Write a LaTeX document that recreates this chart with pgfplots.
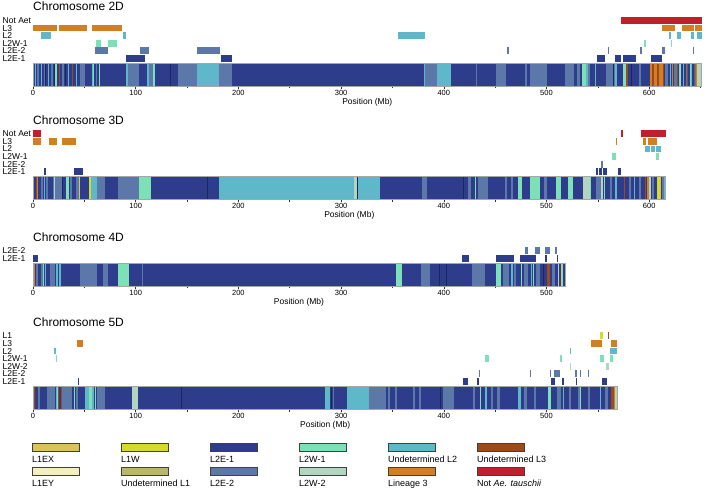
\documentclass[border=0pt]{standalone}
\usepackage{fontspec}
\setmainfont{Liberation Sans}
\usepackage{pgfplots}
\pgfplotsset{compat=1.18}

\definecolor{cL1EX}{HTML}{D9C35A}
\definecolor{cL1W}{HTML}{D5DB2D}
\definecolor{cE1}{HTML}{2E3C8C}
\definecolor{cW1}{HTML}{7EE0B6}
\definecolor{cU2}{HTML}{5FB7CA}
\definecolor{cU3}{HTML}{9B4A1C}
\definecolor{cL1EY}{HTML}{F4F0BC}
\definecolor{cU1}{HTML}{B9B86A}
\definecolor{cE2}{HTML}{5B78A8}
\definecolor{cW2}{HTML}{B1D5BE}
\definecolor{cL3}{HTML}{D27F24}
\definecolor{cNA}{HTML}{C01F2B}
\definecolor{navy}{HTML}{1C2660}

\pgfplotsset{
  chrom/.style={
    x=1.027pt, y=1pt, xmin=0, ymin=0, enlargelimits=false, clip=false,
    axis x line*=bottom, axis y line*=left,
    x axis line style={draw=none}, y axis line style={draw=none},
    xtick distance=100, minor x tick num=1,
    tick align=outside, major tick length=3pt, minor tick length=2.5pt,
    x tick style={black!80, line width=0.6pt}, y tick style={draw=none},
    /pgf/number format/assume math mode=true,
    xticklabel style={font=\fontsize{7.5}{8}\selectfont, inner sep=1pt},
    yticklabel style={font=\fontsize{8.5}{8.5}\selectfont, anchor=west, xshift=-27.5pt, inner sep=0pt},
    xlabel={Position (Mb)},
    xlabel style={font=\fontsize{8.5}{9}\selectfont, at={(rel axis cs:0.5,0)}, anchor=center, yshift=-16.5pt},
    unbounded coords=jump,
  },
  bar/.style={line width=22.6pt},
  trk/.style={line width=6.8pt},
  rim/.style={draw=black!35, line width=0.5pt},
}
\tikzset{
  ttl/.style={anchor=base west, inner sep=0pt, font=\fontsize{12}{14}\selectfont},
  lab/.style={anchor=base west, inner sep=0pt, font=\fontsize{9}{9}\selectfont},
  box/.style={draw=black!75, line width=0.6pt},
}

\begin{document}
\begin{tikzpicture}[x=1pt,y=1pt]
\useasboundingbox (0,0) rectangle (708,489);

% ---------------- Chromosome 2D
\begin{axis}[chrom, at={(33pt,403pt)}, anchor=south west, xmax=651, ymax=72,
  ytick={27.5,35.1,42.7,50.3,57.9,65.5},
  yticklabels={L2E-1,L2E-2,L2W-1,L2,L3,Not Aet}]
\addplot[bar, cE1] coordinates {(0,11.3)(651,11.3)};
\addplot[bar, cE2] coordinates {(4,11.3)(6,11.3)(nan,nan)(11,11.3)(13,11.3)(nan,nan)(18,11.3)(19,11.3)(nan,nan)(28,11.3)(30,11.3)(nan,nan)(46,11.3)(51,11.3)(nan,nan)(61,11.3)(62,11.3)(nan,nan)(92.5,11.3)(103,11.3)(nan,nan)(113,11.3)(117,11.3)(nan,nan)(141,11.3)(160,11.3)(nan,nan)(181,11.3)(194,11.3)(nan,nan)(382,11.3)(393,11.3)(nan,nan)(431,11.3)(432,11.3)(nan,nan)(451,11.3)(461,11.3)(nan,nan)(479,11.3)(481,11.3)(nan,nan)(484,11.3)(500,11.3)(nan,nan)(518,11.3)(527,11.3)(nan,nan)(530,11.3)(533,11.3)(nan,nan)(540,11.3)(542,11.3)(nan,nan)(558,11.3)(567,11.3)(nan,nan)(590,11.3)(592,11.3)(nan,nan)(615,11.3)(618,11.3)(nan,nan)(624,11.3)(627,11.3)(nan,nan)(636,11.3)(638,11.3)(nan,nan)(645,11.3)(647,11.3)};
\addplot[bar, cU2] coordinates {(2,11.3)(3,11.3)(nan,nan)(8,11.3)(9,11.3)(nan,nan)(15,11.3)(16,11.3)(nan,nan)(34,11.3)(35,11.3)(nan,nan)(42,11.3)(43,11.3)(nan,nan)(57,11.3)(58,11.3)(nan,nan)(90.5,11.3)(92.5,11.3)(nan,nan)(111,11.3)(113,11.3)(nan,nan)(160,11.3)(181,11.3)(nan,nan)(381,11.3)(382,11.3)(nan,nan)(393,11.3)(407,11.3)(nan,nan)(538,11.3)(540,11.3)(nan,nan)(547,11.3)(548,11.3)(nan,nan)(567,11.3)(569,11.3)(nan,nan)(620,11.3)(621,11.3)(nan,nan)(633,11.3)(634,11.3)(nan,nan)(641,11.3)(642,11.3)(nan,nan)(649,11.3)(650,11.3)};
\addplot[bar, cW1] coordinates {(21,11.3)(23,11.3)(nan,nan)(58,11.3)(59.5,11.3)(nan,nan)(64,11.3)(65.5,11.3)(nan,nan)(117,11.3)(119,11.3)(nan,nan)(535,11.3)(538,11.3)(nan,nan)(574,11.3)(577,11.3)(nan,nan)(629,11.3)(630,11.3)(nan,nan)(640,11.3)(641,11.3)};
\addplot[bar, cU3] coordinates {(25,11.3)(26,11.3)(nan,nan)(38,11.3)(39,11.3)(nan,nan)(577,11.3)(579,11.3)(nan,nan)(603,11.3)(605,11.3)(nan,nan)(608,11.3)(610,11.3)(nan,nan)(613,11.3)(614,11.3)(nan,nan)(627,11.3)(628,11.3)(nan,nan)(637,11.3)(638,11.3)(nan,nan)(644,11.3)(645,11.3)};
\addplot[bar, cL3] coordinates {(601,11.3)(603,11.3)(nan,nan)(605,11.3)(608,11.3)(nan,nan)(610,11.3)(613,11.3)(nan,nan)(622,11.3)(623,11.3)(nan,nan)(646,11.3)(647,11.3)};
\addplot[bar, cW2] coordinates {(630,11.3)(631,11.3)(nan,nan)(647,11.3)(651,11.3)};
\addplot[bar, navy] coordinates {(12,11.3)(12.6,11.3)(nan,nan)(20,11.3)(20.6,11.3)(nan,nan)(31,11.3)(31.6,11.3)(nan,nan)(133,11.3)(134,11.3)(nan,nan)(565,11.3)(566,11.3)(nan,nan)(582,11.3)(583,11.3)};
\addplot[rim] coordinates {(0,0)(651,0)(651,22.6)(0,22.6)(0,0)};
% tracks
\addplot[trk, cNA] coordinates {(573,65.5)(651,65.5)};
\addplot[trk, cL3] coordinates {(0,57.9)(23.5,57.9)(nan,nan)(25.5,57.9)(53,57.9)(nan,nan)(57,57.9)(86.5,57.9)(nan,nan)(612.5,57.9)(625,57.9)(nan,nan)(632,57.9)(644,57.9)(nan,nan)(645,57.9)(651,57.9)};
\addplot[trk, cU2] coordinates {(8,50.3)(17.5,50.3)(nan,nan)(88,50.3)(90.5,50.3)(nan,nan)(355.5,50.3)(382,50.3)(nan,nan)(619,50.3)(621,50.3)(nan,nan)(627,50.3)(631,50.3)(nan,nan)(641,50.3)(644,50.3)(nan,nan)(647,50.3)(651,50.3)};
\addplot[trk, cW1] coordinates {(61.5,42.7)(66,42.7)(nan,nan)(73,42.7)(81.5,42.7)(nan,nan)(595,42.7)(597,42.7)(nan,nan)(621,42.7)(622,42.7)};
\addplot[trk, cE2] coordinates {(60.5,35.1)(73,35.1)(nan,nan)(104,35.1)(113,35.1)(nan,nan)(159.5,35.1)(182,35.1)(nan,nan)(462,35.1)(463,35.1)(nan,nan)(559.5,35.1)(560.5,35.1)(nan,nan)(591.5,35.1)(592.5,35.1)(nan,nan)(612.5,35.1)(615,35.1)(nan,nan)(643,35.1)(644,35.1)};
\addplot[trk, cE1] coordinates {(90.5,27.5)(109,27.5)(nan,nan)(183,27.5)(194,27.5)(nan,nan)(549,27.5)(557,27.5)(nan,nan)(566.5,27.5)(572.5,27.5)(nan,nan)(574.5,27.5)(587,27.5)(nan,nan)(602,27.5)(612.5,27.5)};
\node[ttl] at (axis cs:0,75) {Chromosome 2D};
\end{axis}

% ---------------- Chromosome 3D
\begin{axis}[chrom, at={(33pt,289.7pt)}, anchor=south west, xmax=616, ymax=72,
  ytick={27.5,35.1,42.7,50.3,57.9,65.5},
  yticklabels={L2E-1,L2E-2,L2W-1,L2,L3,Not Aet}]
\addplot[bar, cE1] coordinates {(0,11.3)(616,11.3)};
\addplot[bar, cE2] coordinates {(8,11.3)(10,11.3)(nan,nan)(13,11.3)(15,11.3)(nan,nan)(19.5,11.3)(28,11.3)(nan,nan)(36,11.3)(38,11.3)(nan,nan)(42,11.3)(45,11.3)(nan,nan)(62.5,11.3)(70,11.3)(nan,nan)(83,11.3)(103,11.3)(nan,nan)(379,11.3)(384,11.3)(nan,nan)(424,11.3)(426,11.3)(nan,nan)(433,11.3)(443,11.3)(nan,nan)(460,11.3)(462,11.3)(nan,nan)(465,11.3)(467,11.3)(nan,nan)(498,11.3)(500,11.3)(nan,nan)(548,11.3)(553,11.3)(nan,nan)(562,11.3)(564,11.3)(nan,nan)(580,11.3)(582,11.3)(nan,nan)(590,11.3)(592,11.3)(nan,nan)(603,11.3)(605,11.3)(nan,nan)(612,11.3)(614,11.3)};
\addplot[bar, cU2] coordinates {(11,11.3)(12,11.3)(nan,nan)(55.5,11.3)(62.5,11.3)(nan,nan)(181,11.3)(312.5,11.3)(nan,nan)(316,11.3)(338,11.3)(nan,nan)(567,11.3)(569,11.3)(nan,nan)(585,11.3)(586,11.3)(nan,nan)(614,11.3)(616,11.3)};
\addplot[bar, cW1] coordinates {(32,11.3)(35,11.3)(nan,nan)(103,11.3)(115,11.3)(nan,nan)(430,11.3)(431.5,11.3)(nan,nan)(472,11.3)(476,11.3)(nan,nan)(484,11.3)(494,11.3)(nan,nan)(509,11.3)(514,11.3)(nan,nan)(521,11.3)(526,11.3)(nan,nan)(541,11.3)(543,11.3)(nan,nan)(556,11.3)(557,11.3)};
\addplot[bar, cW2] coordinates {(20,11.3)(21,11.3)(nan,nan)(312.5,11.3)(315,11.3)(nan,nan)(535.5,11.3)(542,11.3)(nan,nan)(553,11.3)(555,11.3)(nan,nan)(600,11.3)(602,11.3)};
\addplot[bar, cU3] coordinates {(2.5,11.3)(4,11.3)(nan,nan)(575,11.3)(576,11.3)(nan,nan)(596,11.3)(597,11.3)};
\addplot[bar, cL3] coordinates {(4,11.3)(5,11.3)(nan,nan)(598,11.3)(600,11.3)};
\addplot[bar, cL1W] coordinates {(55,11.3)(56,11.3)(nan,nan)(608,11.3)(610.5,11.3)};
\addplot[bar, cL1EX] coordinates {(45,11.3)(46,11.3)(nan,nan)(610.5,11.3)(611.5,11.3)};
\addplot[bar, navy] coordinates {(28,11.3)(28.6,11.3)(nan,nan)(169,11.3)(170,11.3)(nan,nan)(315,11.3)(316,11.3)(nan,nan)(419,11.3)(420,11.3)};
\addplot[rim] coordinates {(0,0)(616,0)(616,22.6)(0,22.6)(0,0)};
% tracks
\addplot[trk, cNA] coordinates {(0,65.5)(8,65.5)(nan,nan)(573,65.5)(574.5,65.5)(nan,nan)(592,65.5)(616,65.5)};
\addplot[trk, cL3] coordinates {(0,57.9)(8,57.9)(nan,nan)(16,57.9)(23,57.9)(nan,nan)(28,57.9)(42,57.9)(nan,nan)(567.5,57.9)(568.5,57.9)(nan,nan)(594,57.9)(597,57.9)(nan,nan)(598.5,57.9)(608,57.9)};
\addplot[trk, cU2] coordinates {(596,50.3)(601,50.3)(nan,nan)(602,50.3)(606,50.3)(nan,nan)(607,50.3)(611.5,50.3)};
\addplot[trk, cW1] coordinates {(563.5,42.7)(567.5,42.7)(nan,nan)(607,42.7)(609.5,42.7)};
\addplot[trk, cE2] coordinates {(553,35.1)(555,35.1)};
\addplot[trk, cE1] coordinates {(11,27.5)(12.5,27.5)(nan,nan)(40,27.5)(48.5,27.5)(nan,nan)(548,27.5)(550,27.5)(nan,nan)(551,27.5)(554,27.5)(nan,nan)(555,27.5)(559,27.5)(nan,nan)(569.5,27.5)(572.5,27.5)};
\node[ttl] at (axis cs:0,75) {Chromosome 3D};
\end{axis}

% ---------------- Chromosome 4D
\begin{axis}[chrom, at={(33pt,203pt)}, anchor=south west, xmax=518, ymax=40,
  ytick={27.5,35.1}, yticklabels={L2E-1,L2E-2}]
\addplot[bar, cE1] coordinates {(0,11.3)(518,11.3)};
\addplot[bar, cE2] coordinates {(3,11.3)(5,11.3)(nan,nan)(8,11.3)(10,11.3)(nan,nan)(16.5,11.3)(21.5,11.3)(nan,nan)(46,11.3)(62.5,11.3)(nan,nan)(68,11.3)(73,11.3)(nan,nan)(106,11.3)(107,11.3)(nan,nan)(378,11.3)(386.5,11.3)(nan,nan)(427.5,11.3)(440,11.3)(nan,nan)(458,11.3)(463,11.3)(nan,nan)(468,11.3)(470,11.3)(nan,nan)(478,11.3)(482,11.3)(nan,nan)(490,11.3)(494,11.3)(nan,nan)(505,11.3)(508,11.3)};
\addplot[bar, cU2] coordinates {(12,11.3)(13,11.3)(nan,nan)(22,11.3)(24,11.3)(nan,nan)(25,11.3)(27,11.3)(nan,nan)(465.5,11.3)(467,11.3)(nan,nan)(485,11.3)(486,11.3)};
\addplot[bar, cW1] coordinates {(10,11.3)(11,11.3)(nan,nan)(82.5,11.3)(93.5,11.3)(nan,nan)(353.5,11.3)(359,11.3)(nan,nan)(451,11.3)(456,11.3)(nan,nan)(475,11.3)(476,11.3)(nan,nan)(487,11.3)(488,11.3)(nan,nan)(515,11.3)(516,11.3)};
\addplot[bar, cU3] coordinates {(0,11.3)(1,11.3)(nan,nan)(500,11.3)(503.5,11.3)};
\addplot[bar, cL3] coordinates {(1,11.3)(2,11.3)};
\addplot[bar, cL1EX] coordinates {(514,11.3)(515,11.3)};
\addplot[bar, cW2] coordinates {(511,11.3)(512,11.3)};
\addplot[bar, navy] coordinates {(395,11.3)(396,11.3)(nan,nan)(402,11.3)(403,11.3)(nan,nan)(497,11.3)(498,11.3)};
\addplot[rim] coordinates {(0,0)(518,0)(518,22.6)(0,22.6)(0,0)};
% tracks
\addplot[trk, cE2] coordinates {(479,35.1)(482,35.1)(nan,nan)(489,35.1)(494,35.1)(nan,nan)(499,35.1)(503.5,35.1)(nan,nan)(508,35.1)(510,35.1)};
\addplot[trk, cE1] coordinates {(0,27.5)(5,27.5)(nan,nan)(418,27.5)(425,27.5)(nan,nan)(451,27.5)(468.5,27.5)(nan,nan)(474,27.5)(489.5,27.5)(nan,nan)(498.5,27.5)(500.5,27.5)(nan,nan)(510.5,27.5)(511.5,27.5)};
\node[ttl] at (axis cs:0,44.5) {Chromosome 4D};
\end{axis}

% ---------------- Chromosome 5D
\begin{axis}[chrom, at={(33pt,80pt)}, anchor=south west, xmax=569, ymax=78,
  ytick={27.5,35.1,42.7,50.3,57.9,65.5,73.1},
  yticklabels={L2E-1,L2E-2,L2W-2,L2W-1,L2,L3,L1}]
\addplot[bar, cE1] coordinates {(0,11.3)(569,11.3)};
\addplot[bar, cE2] coordinates {(5,11.3)(7,11.3)(nan,nan)(13.5,11.3)(21.5,11.3)(nan,nan)(28,11.3)(38,11.3)(nan,nan)(42,11.3)(44,11.3)(nan,nan)(62,11.3)(70,11.3)(nan,nan)(292,11.3)(293,11.3)(nan,nan)(327,11.3)(343.5,11.3)(nan,nan)(346,11.3)(348,11.3)(nan,nan)(352,11.3)(354,11.3)(nan,nan)(370,11.3)(372,11.3)(nan,nan)(376,11.3)(378,11.3)(nan,nan)(399,11.3)(410,11.3)(nan,nan)(428,11.3)(430,11.3)(nan,nan)(446,11.3)(448,11.3)(nan,nan)(452,11.3)(455,11.3)(nan,nan)(478,11.3)(481,11.3)(nan,nan)(488,11.3)(490,11.3)(nan,nan)(510,11.3)(514,11.3)(nan,nan)(522,11.3)(524,11.3)(nan,nan)(531,11.3)(533,11.3)(nan,nan)(540,11.3)(542,11.3)(nan,nan)(557,11.3)(560,11.3)};
\addplot[bar, cU2] coordinates {(22,11.3)(23,11.3)(nan,nan)(50.5,11.3)(55,11.3)(nan,nan)(57,11.3)(59,11.3)(nan,nan)(284,11.3)(289,11.3)(nan,nan)(305.5,11.3)(327,11.3)(nan,nan)(440,11.3)(442,11.3)(nan,nan)(472,11.3)(475,11.3)(nan,nan)(516,11.3)(517,11.3)(nan,nan)(552,11.3)(553,11.3)};
\addplot[bar, cW1] coordinates {(23,11.3)(24,11.3)(nan,nan)(40,11.3)(41,11.3)(nan,nan)(55,11.3)(57,11.3)(nan,nan)(60,11.3)(61,11.3)(nan,nan)(435,11.3)(436,11.3)(nan,nan)(501.5,11.3)(504.5,11.3)(nan,nan)(533,11.3)(534,11.3)};
\addplot[bar, cW2] coordinates {(96,11.3)(102,11.3)(nan,nan)(567,11.3)(569,11.3)};
\addplot[bar, cU3] coordinates {(1,11.3)(2,11.3)(nan,nan)(24.5,11.3)(25.5,11.3)(nan,nan)(27,11.3)(28,11.3)(nan,nan)(563,11.3)(565.5,11.3)};
\addplot[bar, cL3] coordinates {(565.5,11.3)(567,11.3)};
\addplot[bar, navy] coordinates {(144,11.3)(145,11.3)(nan,nan)(290,11.3)(291,11.3)(nan,nan)(396,11.3)(397,11.3)};
\addplot[rim] coordinates {(0,0)(569,0)(569,22.6)(0,22.6)(0,0)};
% tracks
\addplot[trk, cL1W] coordinates {(552,73.1)(555,73.1)};
\addplot[trk, cU3] coordinates {(559.5,73.1)(560.5,73.1)};
\addplot[trk, cL3] coordinates {(43,65.5)(49,65.5)(nan,nan)(543,65.5)(554,65.5)(nan,nan)(563,65.5)(569,65.5)};
\addplot[trk, cU2] coordinates {(20.5,57.9)(22.5,57.9)(nan,nan)(522.5,57.9)(523.5,57.9)(nan,nan)(562,57.9)(569,57.9)};
\addplot[trk, cW1] coordinates {(22.3,50.3)(23.3,50.3)(nan,nan)(440,50.3)(444,50.3)(nan,nan)(513,50.3)(515,50.3)(nan,nan)(552,50.3)(556,50.3)(nan,nan)(562,50.3)(565,50.3)};
\addplot[trk, cW2] coordinates {(522.5,42.7)(523.5,42.7)(nan,nan)(558,42.7)(561,42.7)};
\addplot[trk, cE2] coordinates {(434.5,35.1)(435.5,35.1)(nan,nan)(483.5,35.1)(484.5,35.1)(nan,nan)(503,35.1)(504,35.1)(nan,nan)(507,35.1)(513,35.1)(nan,nan)(528,35.1)(529.5,35.1)(nan,nan)(533,35.1)(534,35.1)(nan,nan)(540.5,35.1)(541.5,35.1)};
\addplot[trk, cE1] coordinates {(44,27.5)(45,27.5)(nan,nan)(418.5,27.5)(423.5,27.5)(nan,nan)(432.5,27.5)(434,27.5)(nan,nan)(504.5,27.5)(508.5,27.5)(nan,nan)(515,27.5)(517,27.5)(nan,nan)(528.5,27.5)(529.5,27.5)(nan,nan)(554,27.5)(559,27.5)};
\node[ttl] at (axis cs:0,82) {Chromosome 5D};
\end{axis}

% ---------------- legend
\begin{axis}[at={(0pt,0pt)}, anchor=south west, x=1pt, y=1pt, xmin=0, xmax=708, ymin=0, ymax=60,
  hide axis, clip=false]
\addplot[box, fill=cL1EX] coordinates {(32,38)(79,38)(79,45.5)(32,45.5)(32,38)};
\addplot[box, fill=cL1W] coordinates {(121,38)(168,38)(168,45.5)(121,45.5)(121,38)};
\addplot[box, fill=cE1] coordinates {(210,38)(257,38)(257,45.5)(210,45.5)(210,38)};
\addplot[box, fill=cW1] coordinates {(299,38)(346,38)(346,45.5)(299,45.5)(299,38)};
\addplot[box, fill=cU2] coordinates {(388,38)(435,38)(435,45.5)(388,45.5)(388,38)};
\addplot[box, fill=cU3] coordinates {(477,38)(524,38)(524,45.5)(477,45.5)(477,38)};
\addplot[box, fill=cL1EY] coordinates {(32,14)(79,14)(79,21.5)(32,21.5)(32,14)};
\addplot[box, fill=cU1] coordinates {(121,14)(168,14)(168,21.5)(121,21.5)(121,14)};
\addplot[box, fill=cE2] coordinates {(210,14)(257,14)(257,21.5)(210,21.5)(210,14)};
\addplot[box, fill=cW2] coordinates {(299,14)(346,14)(346,21.5)(299,21.5)(299,14)};
\addplot[box, fill=cL3] coordinates {(388,14)(435,14)(435,21.5)(388,21.5)(388,14)};
\addplot[box, fill=cNA] coordinates {(477,14)(524,14)(524,21.5)(477,21.5)(477,14)};
\node[lab] at (axis cs:32,26) {L1EX};
\node[lab] at (axis cs:121,26) {L1W};
\node[lab] at (axis cs:210,26) {L2E-1};
\node[lab] at (axis cs:299,26) {L2W-1};
\node[lab] at (axis cs:388,26) {Undetermined L2};
\node[lab] at (axis cs:477,26) {Undetermined L3};
\node[lab] at (axis cs:32,3) {L1EY};
\node[lab] at (axis cs:121,3) {Undetermined L1};
\node[lab] at (axis cs:210,3) {L2E-2};
\node[lab] at (axis cs:299,3) {L2W-2};
\node[lab] at (axis cs:388,3) {Lineage 3};
\node[lab] at (axis cs:477,3) {Not \textit{Ae. tauschii}};
\end{axis}
\end{tikzpicture}
\end{document}
